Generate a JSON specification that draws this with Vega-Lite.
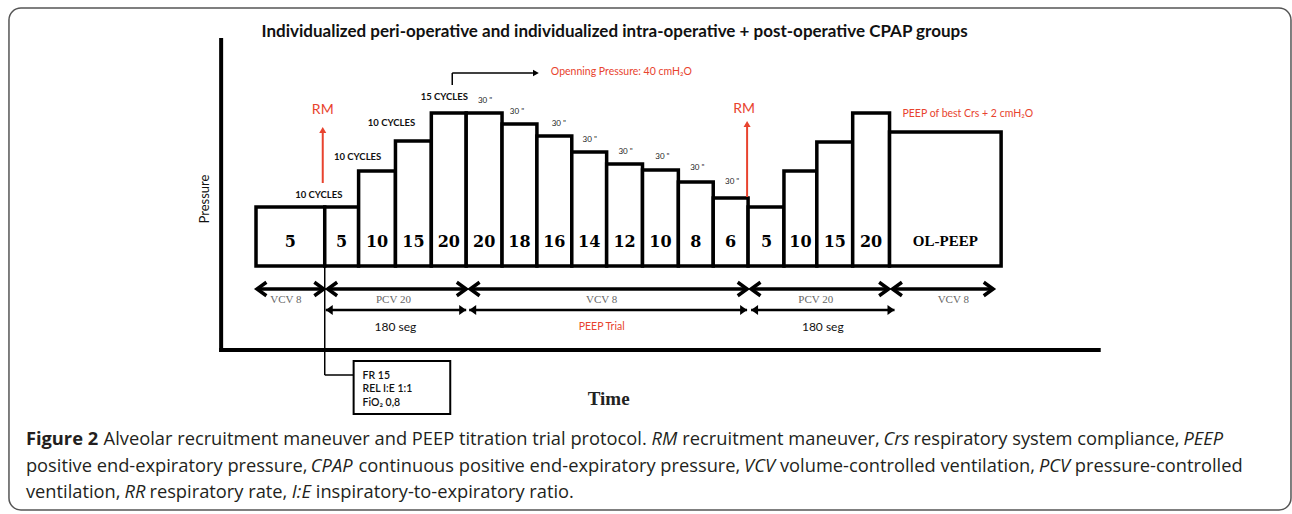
{
  "$schema": "https://vega.github.io/schema/vega-lite/v6.json",
  "width": 1292,
  "height": 514,
  "autosize": {"type": "fit", "contains": "padding"},
  "padding": 0,
  "background": "white",
  "config": {"view": {"stroke": null}},
  "datasets": {
    "frame": [{"x": 9, "x2": 1296, "y": 8, "y2": 510}],
    "axes": [
      {"x": 222, "y": 38, "x2": 222, "y2": 352},
      {"x": 220, "y": 350, "x2": 1105, "y2": 350}
    ],
    "bars": [
      {"label": "5", "x": 257, "x2": 326, "y": 207, "cx": 291.5},
      {"label": "5", "x": 326, "x2": 360, "y": 207, "cx": 343},
      {"label": "10", "x": 360, "x2": 397, "y": 171, "cx": 378.5},
      {"label": "15", "x": 397, "x2": 433, "y": 141, "cx": 415},
      {"label": "20", "x": 433, "x2": 468, "y": 113, "cx": 450.5},
      {"label": "20", "x": 468, "x2": 504, "y": 113, "cx": 486},
      {"label": "18", "x": 504, "x2": 539, "y": 124, "cx": 521.5},
      {"label": "16", "x": 539, "x2": 574, "y": 136, "cx": 556.5},
      {"label": "14", "x": 574, "x2": 609, "y": 152, "cx": 591.5},
      {"label": "12", "x": 609, "x2": 645, "y": 164, "cx": 627},
      {"label": "10", "x": 645, "x2": 681, "y": 170, "cx": 663},
      {"label": "8", "x": 681, "x2": 716, "y": 182, "cx": 698.5},
      {"label": "6", "x": 716, "x2": 751, "y": 198, "cx": 733.5},
      {"label": "5", "x": 751, "x2": 787, "y": 207, "cx": 769.5},
      {"label": "10", "x": 787, "x2": 820, "y": 171, "cx": 803.5},
      {"label": "15", "x": 820, "x2": 856, "y": 142, "cx": 838},
      {"label": "20", "x": 856, "x2": 893, "y": 113, "cx": 874.5},
      {"label": "OL-PEEP", "x": 893, "x2": 1005, "y": 132, "cx": 949}
    ],
    "arrows1": [
      {"x": 258, "x2": 325, "y": 289},
      {"x": 329, "x2": 468, "y": 289},
      {"x": 472, "x2": 750, "y": 289},
      {"x": 754, "x2": 892, "y": 289},
      {"x": 896, "x2": 997, "y": 289}
    ],
    "heads1": [
      {"x": 258, "y": 289, "d": "L"}, {"x": 325, "y": 289, "d": "R"},
      {"x": 329, "y": 289, "d": "L"}, {"x": 468, "y": 289, "d": "R"},
      {"x": 472, "y": 289, "d": "L"}, {"x": 750, "y": 289, "d": "R"},
      {"x": 754, "y": 289, "d": "L"}, {"x": 892, "y": 289, "d": "R"},
      {"x": 896, "y": 289, "d": "L"}, {"x": 997, "y": 289, "d": "R"}
    ],
    "arrows2": [
      {"x": 327, "x2": 468, "y": 310},
      {"x": 471, "x2": 750, "y": 310},
      {"x": 754, "x2": 898, "y": 310}
    ],
    "heads2": [
      {"x": 327, "y": 310, "d": "L"}, {"x": 468, "y": 310, "d": "R"},
      {"x": 471, "y": 310, "d": "L"}, {"x": 750, "y": 310, "d": "R"},
      {"x": 754, "y": 310, "d": "L"}, {"x": 898, "y": 310, "d": "R"}
    ],
    "rmlines": [
      {"x": 324, "y": 183, "x2": 324, "y2": 132},
      {"x": 750, "y": 197, "x2": 750, "y2": 126}
    ],
    "rmheads": [{"x": 324, "y": 130}, {"x": 750, "y": 124}],
    "thin": [
      {"x": 454, "y": 85, "x2": 454, "y2": 73},
      {"x": 454, "y": 73, "x2": 535, "y2": 73},
      {"x": 326, "y": 266, "x2": 326, "y2": 375},
      {"x": 326, "y": 375, "x2": 355, "y2": 375}
    ],
    "openhead": [{"x": 538, "y": 73}],
    "box": [{"x": 355, "x2": 452, "y": 361, "y2": 414}],
    "boxtext": [
      {"t": "FR 15", "x": 364, "y": 376},
      {"t": "REL I:E 1:1", "x": 364, "y": 389},
      {"t": "FiO₂ 0,8", "x": 364, "y": 403}
    ],
    "cycles": [
      {"t": "10 CYCLES", "x": 320, "y": 195},
      {"t": "10 CYCLES", "x": 359, "y": 157},
      {"t": "10 CYCLES", "x": 393, "y": 123},
      {"t": "15 CYCLES", "x": 446, "y": 97}
    ],
    "secs": [
      {"t": "30 \"", "x": 487, "y": 101},
      {"t": "30 \"", "x": 519, "y": 112},
      {"t": "30 \"", "x": 561, "y": 124},
      {"t": "30 \"", "x": 592, "y": 140},
      {"t": "30 \"", "x": 628, "y": 152},
      {"t": "30 \"", "x": 665, "y": 157},
      {"t": "30 \"", "x": 700, "y": 168},
      {"t": "30 \"", "x": 735, "y": 182}
    ],
    "rm": [{"t": "RM", "x": 324, "y": 110}, {"t": "RM", "x": 747, "y": 109}],
    "rednotes": [
      {"t": "Openning Pressure: 40 cmH₂O", "x": 553, "y": 72},
      {"t": "PEEP of best Crs + 2 cmH₂O", "x": 906, "y": 114}
    ],
    "row1": [
      {"t": "VCV 8", "x": 287, "y": 300},
      {"t": "PCV 20", "x": 395, "y": 300},
      {"t": "VCV 8", "x": 604, "y": 300},
      {"t": "PCV 20", "x": 819, "y": 300},
      {"t": "VCV 8", "x": 957, "y": 300}
    ],
    "row2": [
      {"t": "180 seg", "x": 397, "y": 327, "c": "k"},
      {"t": "PEEP Trial", "x": 604, "y": 327, "c": "r"},
      {"t": "180 seg", "x": 826, "y": 327, "c": "k"}
    ],
    "title": [{"t": "Individualized peri-operative and individualized intra-operative + post-operative CPAP groups", "x": 617, "y": 32}],
    "ylab": [{"t": "Pressure", "x": 206, "y": 199}],
    "xlab": [{"t": "Time", "x": 611, "y": 399}],
    "cap": [
      {"t": "Figure 2", "x": 26, "y": 445, "s": "b"},
      {"t": "Alveolar recruitment maneuver and PEEP titration trial protocol.", "x": 104, "y": 445, "s": "n"},
      {"t": "RM", "x": 654, "y": 445, "s": "i"},
      {"t": "recruitment maneuver,", "x": 685, "y": 445, "s": "n"},
      {"t": "Crs", "x": 887, "y": 445, "s": "i"},
      {"t": "respiratory system compliance,", "x": 917, "y": 445, "s": "n"},
      {"t": "PEEP", "x": 1188, "y": 445, "s": "i"},
      {"t": "positive end-expiratory pressure,", "x": 26, "y": 472, "s": "n"},
      {"t": "CPAP", "x": 312, "y": 472, "s": "i"},
      {"t": "continuous positive end-expiratory pressure,", "x": 360, "y": 472, "s": "n"},
      {"t": "VCV", "x": 747, "y": 472, "s": "i"},
      {"t": "volume-controlled ventilation,", "x": 783, "y": 472, "s": "n"},
      {"t": "PCV", "x": 1043, "y": 472, "s": "i"},
      {"t": "pressure-controlled", "x": 1079, "y": 472, "s": "n"},
      {"t": "ventilation,", "x": 26, "y": 498, "s": "n"},
      {"t": "RR", "x": 125, "y": 498, "s": "i"},
      {"t": "respiratory rate,", "x": 150, "y": 498, "s": "n"},
      {"t": "I:E", "x": 293, "y": 498, "s": "i"},
      {"t": "inspiratory-to-expiratory ratio.", "x": 317, "y": 498, "s": "n"}
    ]
  },
  "encoding": {
    "x": {"field": "x", "type": "quantitative", "scale": {"domain": [0, 1292], "nice": false, "zero": false}, "axis": null},
    "y": {"field": "y", "type": "quantitative", "scale": {"domain": [0, 514], "reverse": true, "nice": false, "zero": false}, "axis": null}
  },
  "layer": [
    {"data": {"name": "frame"}, "mark": {"type": "rect", "fill": "transparent", "stroke": "#555", "strokeWidth": 1.5, "cornerRadius": 12},
     "encoding": {"x2": {"field": "x2"}, "y2": {"field": "y2"}}},
    {"data": {"name": "axes"}, "mark": {"type": "rule", "color": "black", "strokeWidth": 4},
     "encoding": {"x2": {"field": "x2"}, "y2": {"field": "y2"}}},
    {"data": {"name": "thin"}, "mark": {"type": "rule", "color": "black", "strokeWidth": 1.5},
     "encoding": {"x2": {"field": "x2"}, "y2": {"field": "y2"}}},
    {"data": {"name": "bars"}, "mark": {"type": "rect", "fill": "white", "stroke": "black", "strokeWidth": 3.5},
     "encoding": {"x2": {"field": "x2"}, "y2": {"datum": 266}}},
    {"data": {"name": "bars"}, "transform": [{"filter": "datum.label != 'OL-PEEP'"}],
     "mark": {"type": "text", "font": "DejaVu Serif", "fontWeight": "bold", "fontSize": 16, "align": "center", "baseline": "middle", "color": "black"},
     "encoding": {"x": {"field": "cx"}, "y": {"datum": 242}, "text": {"field": "label"}}},
    {"data": {"name": "bars"}, "transform": [{"filter": "datum.label == 'OL-PEEP'"}],
     "mark": {"type": "text", "font": "Liberation Serif", "fontWeight": "bold", "fontSize": 15, "align": "center", "baseline": "middle", "color": "black"},
     "encoding": {"x": {"field": "cx"}, "y": {"datum": 241}, "text": {"field": "label"}}},
    {"data": {"name": "arrows1"}, "mark": {"type": "rule", "color": "black", "strokeWidth": 3.5},
     "encoding": {"x2": {"field": "x2"}}},
    {"data": {"name": "heads1"}, "mark": {"type": "point", "filled": false, "color": "black", "strokeWidth": 3.5, "size": 180, "opacity": 1},
     "encoding": {"shape": {"field": "d", "type": "nominal", "scale": {"domain": ["L", "R"], "range": ["M1.4,-1L0,0L1.4,1", "M-1.4,-1L0,0L-1.4,1"]}, "legend": null}}},
    {"data": {"name": "arrows2"}, "mark": {"type": "rule", "color": "black", "strokeWidth": 2.5},
     "encoding": {"x2": {"field": "x2"}}},
    {"data": {"name": "heads2"}, "mark": {"type": "point", "filled": true, "color": "black", "size": 100, "opacity": 1},
     "encoding": {"shape": {"field": "d", "type": "nominal", "scale": {"domain": ["L", "R"], "range": ["M0,0L1.7,-0.9L1.7,0.9Z", "M0,0L-1.7,-0.9L-1.7,0.9Z"]}, "legend": null}}},
    {"data": {"name": "rmlines"}, "mark": {"type": "rule", "color": "#e8432e", "strokeWidth": 2},
     "encoding": {"x2": {"field": "x2"}, "y2": {"field": "y2"}}},
    {"data": {"name": "rmheads"}, "mark": {"type": "point", "shape": "triangle-up", "filled": true, "color": "#e8432e", "size": 50, "opacity": 1}},
    {"data": {"name": "openhead"}, "mark": {"type": "point", "shape": "triangle-right", "filled": true, "color": "black", "size": 45, "opacity": 1}},
    {"data": {"name": "box"}, "mark": {"type": "rect", "fill": "white", "stroke": "black", "strokeWidth": 2},
     "encoding": {"x2": {"field": "x2"}, "y2": {"field": "y2"}}},
    {"data": {"name": "boxtext"}, "mark": {"type": "text", "font": "Lato", "fontWeight": 600, "fontSize": 10.5, "align": "left", "baseline": "middle", "color": "#111"},
     "encoding": {"text": {"field": "t"}}},
    {"data": {"name": "cycles"}, "mark": {"type": "text", "font": "Lato", "fontWeight": "bold", "fontSize": 9.5, "align": "center", "baseline": "middle", "color": "#111"},
     "encoding": {"text": {"field": "t"}}},
    {"data": {"name": "secs"}, "mark": {"type": "text", "font": "Lato", "fontSize": 8, "align": "center", "baseline": "middle", "color": "#222"},
     "encoding": {"text": {"field": "t"}}},
    {"data": {"name": "rm"}, "mark": {"type": "text", "font": "Lato", "fontSize": 14, "align": "center", "baseline": "middle", "color": "#e8432e"},
     "encoding": {"text": {"field": "t"}}},
    {"data": {"name": "rednotes"}, "mark": {"type": "text", "font": "Lato", "fontSize": 10.5, "align": "left", "baseline": "middle", "color": "#e8432e"},
     "encoding": {"text": {"field": "t"}}},
    {"data": {"name": "row1"}, "mark": {"type": "text", "font": "Liberation Serif", "fontSize": 11, "align": "center", "baseline": "middle", "color": "#666"},
     "encoding": {"text": {"field": "t"}}},
    {"data": {"name": "row2"}, "transform": [{"filter": "datum.c == 'k'"}], "mark": {"type": "text", "font": "Lato", "fontSize": 12, "align": "center", "baseline": "middle", "color": "#111"},
     "encoding": {"text": {"field": "t"}}},
    {"data": {"name": "row2"}, "transform": [{"filter": "datum.c == 'r'"}], "mark": {"type": "text", "font": "Lato", "fontSize": 10.5, "align": "center", "baseline": "middle", "color": "#e8432e"},
     "encoding": {"text": {"field": "t"}}},
    {"data": {"name": "title"}, "mark": {"type": "text", "font": "Lato", "fontWeight": "bold", "fontSize": 17, "align": "center", "baseline": "middle", "color": "#111"},
     "encoding": {"text": {"field": "t"}}},
    {"data": {"name": "ylab"}, "mark": {"type": "text", "font": "Lato", "fontSize": 13, "angle": 270, "align": "center", "baseline": "middle", "color": "#111"},
     "encoding": {"text": {"field": "t"}}},
    {"data": {"name": "xlab"}, "mark": {"type": "text", "font": "Liberation Serif", "fontWeight": "bold", "fontSize": 19, "align": "center", "baseline": "middle", "color": "#222"},
     "encoding": {"text": {"field": "t"}}},
    {"data": {"name": "cap"}, "transform": [{"filter": "datum.s == 'b'"}], "mark": {"type": "text", "font": "Open Sans", "fontWeight": "bold", "fontSize": 18.3, "align": "left", "baseline": "alphabetic", "color": "#231f20"},
     "encoding": {"text": {"field": "t"}}},
    {"data": {"name": "cap"}, "transform": [{"filter": "datum.s == 'n'"}], "mark": {"type": "text", "font": "Open Sans", "fontSize": 18.3, "align": "left", "baseline": "alphabetic", "color": "#231f20"},
     "encoding": {"text": {"field": "t"}}},
    {"data": {"name": "cap"}, "transform": [{"filter": "datum.s == 'i'"}], "mark": {"type": "text", "font": "Open Sans", "fontStyle": "italic", "fontSize": 18.3, "align": "left", "baseline": "alphabetic", "color": "#231f20"},
     "encoding": {"text": {"field": "t"}}}
  ]
}
